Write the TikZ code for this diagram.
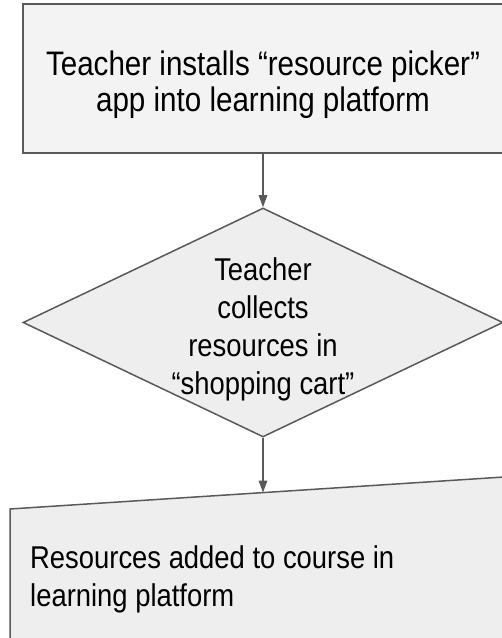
\documentclass[tikz,border=0pt]{standalone}
\usepackage{fontspec}
\setmainfont{Liberation Sans}
\newfontfamily\rfont[FakeStretch=0.87]{Liberation Sans}
\usetikzlibrary{arrows.meta,shapes.geometric}
\definecolor{edge}{HTML}{595959}
\definecolor{fillA}{HTML}{F3F3F3}
\definecolor{fillB}{HTML}{EEEEEE}
\tikzset{
  boxline/.style={draw=edge, line width=1.5pt},
  flowarrow/.style={draw=edge, line width=1.5pt, -{Triangle[length=12pt,width=8.5pt]}},
  bigtext/.style={font=\rfont\fontsize{34}{36}\selectfont, align=center, inner sep=0pt},
  midtext/.style={font=\rfont\fontsize{31.5}{38}\selectfont, inner sep=0pt},
}
\begin{document}
\begin{tikzpicture}[x=1pt,y=1pt]
\useasboundingbox (0,0) rectangle (502,638);
\clip (0,0) rectangle (502,638);
% top box
\node[boxline, fill=fillA, rectangle, minimum width=480pt, minimum height=149pt, inner sep=0pt] (top) at (263,559.5) {};
\node[bigtext] (toptext) at (263,553.5) {Teacher installs “resource picker”\\app into learning platform};
% diamond
\node[boxline, fill=fillB, diamond, minimum width=480pt, minimum height=229pt, inner sep=0pt] (dia) at (263,315.5) {};
\node[midtext, align=center] (diatext) at (263,309) {Teacher\\collects\\resources in\\“shopping cart”};
% bottom manual input shape
\coordinate (bl) at (10,-5);
\coordinate (tl) at (10,129);
\coordinate (tr) at (504,161);
\coordinate (br) at (504,-5);
\draw[boxline, fill=fillB] (bl) -- (tl) -- (tr) -- (br) -- cycle;
\coordinate (intop) at (263,145.4);
\node[midtext, align=left, anchor=north west] (bottext) at (30,93) {Resources added to course in\\learning platform};
% connectors
\draw[flowarrow] (top.south) -- (dia.north);
\draw[flowarrow] (dia.south) -- (intop);
\end{tikzpicture}
\end{document}
